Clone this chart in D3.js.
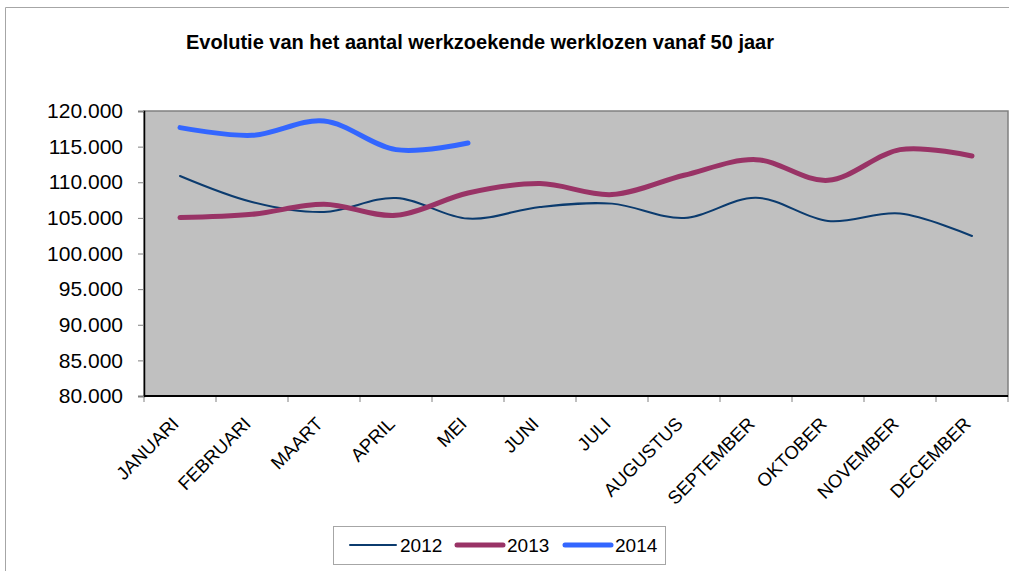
<!DOCTYPE html>
<html>
<head>
<meta charset="utf-8">
<script src="https://cdn.jsdelivr.net/npm/d3@7"></script>
<style>
  body { margin: 0; background: #fff; }
  svg { display: block; font-family: "Liberation Sans", Arial, sans-serif; }
</style>
</head>
<body>
<svg id="chart" width="1009" height="571"></svg>
<script>
// maanden en waarden (werkzoekende werklozen 50+)
var months = ['JANUARI', 'FEBRUARI', 'MAART', 'APRIL', 'MEI', 'JUNI', 'JULI',
              'AUGUSTUS', 'SEPTEMBER', 'OKTOBER', 'NOVEMBER', 'DECEMBER']
var values2012 = [110880, 107230, 105830, 107790, 104900, 106530, 107000, 104980, 107840, 104560, 105600, 102460]
var values2013 = [105040, 105500, 106900, 105360, 108490, 109810, 108270, 110980, 113170, 110270, 114580, 113690]
var values2014 = [117670, 116590, 118600, 114580, 115510]
var yTicks = [80000, 85000, 90000, 95000, 100000, 105000, 110000, 115000, 120000]

var seriesNames = ['2012', '2013', '2014']
var seriesValues = [values2012, values2013, values2014]
var seriesColors = ['#0b3b6e', '#993366', '#3366ff']
var seriesWidths = [2, 5, 5]

var svg = d3.select('#chart')
var plot = { left: 144, right: 1008, top: 111, bottom: 396 }

// buitenrand
svg.append('path')
    .attr('d', 'M5.5,571 V7.5 H1009')
    .attr('fill', 'none')
    .attr('stroke', '#a6a6a6')
    .attr('stroke-width', 1)

svg.append('text')
    .attr('x', 480).attr('y', 49)
    .attr('text-anchor', 'middle')
    .attr('font-size', 20)
    .attr('font-weight', 'bold')
    .text('Evolutie van het aantal werkzoekende werklozen vanaf 50 jaar')

var x = d3.scaleBand().domain(months).range([plot.left, plot.right])
var y = d3.scaleLinear().domain([80000, 120000]).range([plot.bottom, plot.top])

svg.append('rect')
    .attr('x', plot.left).attr('y', plot.top)
    .attr('width', plot.right - plot.left).attr('height', plot.bottom - plot.top)
    .attr('fill', '#c0c0c0')
    .attr('stroke', '#808080')
    .attr('stroke-width', 1.5)

// y-as
var yAxis = svg.append('g')
    .attr('transform', 'translate(' + plot.left + ',0)')
    .call(d3.axisLeft(y).tickValues(yTicks).tickSize(6).tickPadding(15)
        .tickFormat(function(d) { return d3.format(',')(d).replace(/,/g, '.') }))
yAxis.select('.domain').attr('stroke', '#000').attr('stroke-width', 1.5)
yAxis.selectAll('.tick line').attr('stroke', '#808080')
yAxis.selectAll('.tick text')
    .attr('font-size', 21).attr('fill', '#000')
    .attr('font-family', '"Liberation Sans", Arial, sans-serif')

// x-as
var bounds = months.map(function(m) { return x(m) }).concat([plot.right])
var xg = svg.append('g')
svg.append('line')
    .attr('x1', plot.left).attr('x2', plot.right)
    .attr('y1', plot.bottom).attr('y2', plot.bottom)
    .attr('stroke', '#000').attr('stroke-width', 2)
xg.selectAll('line.tick')
    .data(bounds)
    .enter().append('line')
    .attr('x1', function(d) { return d }).attr('x2', function(d) { return d })
    .attr('y1', plot.bottom).attr('y2', plot.bottom + 6)
    .attr('stroke', '#808080')
xg.selectAll('text')
    .data(months)
    .enter().append('text')
    .attr('transform', function(d) {
        return 'translate(' + (x(d) + x.bandwidth() / 2) + ',' + (plot.bottom + 29) + ') rotate(-45)'
    })
    .attr('text-anchor', 'end')
    .attr('font-size', 18.5)
    .text(function(d) { return d })

// lijnen
var line = d3.line()
    .x(function(d, i) { return x(months[i]) + x.bandwidth() / 2 })
    .y(function(d) { return y(d) })
    .curve(d3.curveCardinal.tension(0))

seriesValues.forEach(function(vals, i) {
    svg.append('path')
        .datum(vals)
        .attr('d', line)
        .attr('fill', 'none')
        .attr('stroke', seriesColors[i])
        .attr('stroke-width', seriesWidths[i])
        .attr('stroke-linecap', 'round')
})

// legende
var legend = svg.append('g')
legend.append('rect')
    .attr('x', 333.5).attr('y', 526.5).attr('width', 332).attr('height', 38)
    .attr('fill', '#fff').attr('stroke', '#a6a6a6')
var legX = [350, 457, 565]
seriesNames.forEach(function(name, i) {
    legend.append('line')
        .attr('x1', legX[i]).attr('x2', legX[i] + 46)
        .attr('y1', 545).attr('y2', 545)
        .attr('stroke', seriesColors[i])
        .attr('stroke-width', seriesWidths[i])
        .attr('stroke-linecap', 'round')
    legend.append('text')
        .attr('x', legX[i] + 50).attr('y', 552)
        .attr('font-size', 19)
        .text(name)
})
</script>
</body>
</html>
